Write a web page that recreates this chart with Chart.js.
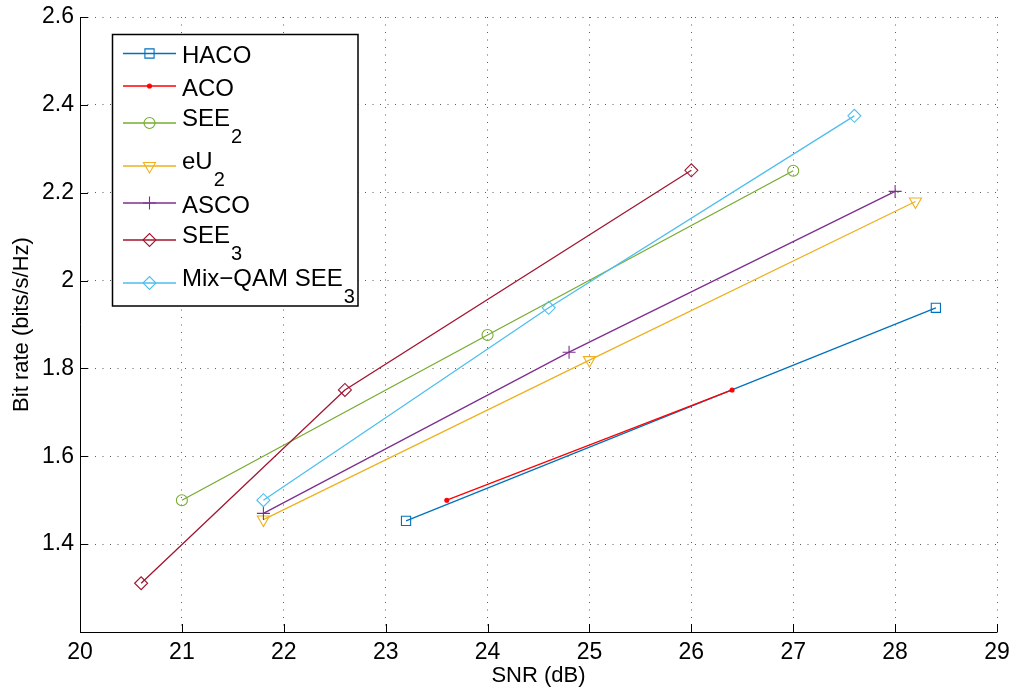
<!DOCTYPE html>
<html><head><meta charset="utf-8">
<script src="https://cdn.jsdelivr.net/npm/chart.js@4/dist/chart.umd.min.js"></script>
<style>html,body{margin:0;padding:0;background:#fff;overflow:hidden}#wrap{position:relative;width:1014px;height:689px}</style>
</head><body><div id="wrap"><canvas id="c" width="1014" height="689"></canvas></div>
<script>
// ---- data ----
const snrHACO = [23.2, 28.4];
const rateHACO = [1.453, 1.938];
const snrACO = [23.6, 26.4];
const rateACO = [1.5, 1.751];
const snrSEE2 = [21, 24, 27];
const rateSEE2 = [1.5, 1.876, 2.25];
const snrEU2 = [21.8, 25, 28.2];
const rateEU2 = [1.456, 1.819, 2.18];
const snrASCO = [21.8, 24.8, 28];
const rateASCO = [1.47, 1.837, 2.203];
const snrSEE3 = [20.6, 22.6, 26];
const rateSEE3 = [1.311, 1.751, 2.251];
const snrMix = [21.8, 24.6, 27.6];
const rateMix = [1.5, 1.938, 2.375];

const seriesNames = ['HACO', 'ACO', 'SEE2', 'eU2', 'ASCO', 'SEE3', 'Mix-QAM SEE3'];
const legendMain = ['HACO', 'ACO', 'SEE', 'eU', 'ASCO', 'SEE', 'Mix\u2212QAM SEE'];
const legendSub = ['', '', '2', '2', '', '3', '3'];

const xTickValues = [20, 21, 22, 23, 24, 25, 26, 27, 28, 29];
const xTickLabels = ['20', '21', '22', '23', '24', '25', '26', '27', '28', '29'];
const yTickValues = [1.2, 1.4, 1.6, 1.8, 2.0, 2.2, 2.4, 2.6];
const yTickLabels = ['', '1.4', '1.6', '1.8', '2', '2.2', '2.4', '2.6'];

const xTitle = 'SNR (dB)';
const yTitle = 'Bit rate (bits/s/Hz)';

// ---- styles ----
const colors = ['#0072BD', '#FF0000', '#77AC30', '#EDB120', '#7E2F8E', '#A2142F', '#4DBEEE'];
const markers = [
  {pointStyle: 'rect', radius: 6.5, rotation: 0, fill: false},
  {pointStyle: 'circle', radius: 2, rotation: 0, fill: true},
  {pointStyle: 'circle', radius: 5.5, rotation: 0, fill: false},
  {pointStyle: 'triangle', radius: 7, rotation: 180, fill: false},
  {pointStyle: 'cross', radius: 6.5, rotation: 0, fill: false},
  {pointStyle: 'rectRot', radius: 6.5, rotation: 0, fill: false},
  {pointStyle: 'rectRot', radius: 6.5, rotation: 0, fill: false}
];
const xs = [snrHACO, snrACO, snrSEE2, snrEU2, snrASCO, snrSEE3, snrMix];
const ys = [rateHACO, rateACO, rateSEE2, rateEU2, rateASCO, rateSEE3, rateMix];

const FONT = '"Liberation Sans", Arial, Helvetica, sans-serif';

const datasets = seriesNames.map((name, i) => ({
  label: name,
  data: xs[i].map((x, j) => ({x: x, y: ys[i][j]})),
  showLine: true,
  borderColor: colors[i],
  backgroundColor: markers[i].fill ? colors[i] : 'rgba(0,0,0,0)',
  borderWidth: 1.3,
  pointStyle: markers[i].pointStyle,
  pointRadius: markers[i].radius,
  pointRotation: markers[i].rotation,
  pointBorderColor: colors[i],
  pointBackgroundColor: markers[i].fill ? colors[i] : 'rgba(0,0,0,0)',
  pointBorderWidth: 1.1,
  order: -i
}));

const matlabPlugin = {
  id: 'matlab',
  afterDraw(chart) {
    const {ctx, chartArea: a, scales: {x, y}} = chart;
    ctx.save();
    // axes lines
    ctx.strokeStyle = '#000';
    ctx.lineWidth = 1;
    ctx.setLineDash([]);
    ctx.beginPath();
    ctx.moveTo(a.left + 0.5, a.top);
    ctx.lineTo(a.left + 0.5, a.bottom + 0.5);
    ctx.lineTo(a.right + 0.5, a.bottom + 0.5);
    ctx.stroke();
    // inward ticks
    ctx.beginPath();
    x.ticks.forEach(t => {
      const px = Math.round(x.getPixelForValue(t.value)) + 0.5;
      ctx.moveTo(px, a.bottom);
      ctx.lineTo(px, a.bottom - 8);
    });
    y.ticks.forEach(t => {
      const py = Math.round(y.getPixelForValue(t.value)) + 0.5;
      ctx.moveTo(a.left, py);
      ctx.lineTo(a.left + 8, py);
    });
    ctx.stroke();

    // legend
    const bl = 112.5, bt = 34.5, br = 358, bb = 306;
    ctx.fillStyle = '#fff';
    ctx.fillRect(bl, bt, br - bl, bb - bt);
    ctx.lineWidth = 1.5;
    ctx.strokeStyle = '#000';
    ctx.strokeRect(bl, bt, br - bl, bb - bt);
    const rowsY = [53.5, 86, 123, 166, 203, 240, 283];
    rowsY.forEach((ry, i) => {
      ctx.strokeStyle = colors[i];
      ctx.lineWidth = 1.3;
      ctx.beginPath();
      ctx.moveTo(123, ry);
      ctx.lineTo(176, ry);
      ctx.stroke();
      ctx.fillStyle = markers[i].fill ? colors[i] : 'rgba(0,0,0,0)';
      ctx.lineWidth = 1.1;
      Chart.helpers.drawPoint(ctx, {
        pointStyle: markers[i].pointStyle,
        radius: markers[i].radius,
        rotation: markers[i].rotation,
        borderWidth: 1.1
      }, 149.5, ry);
      ctx.fillStyle = '#000';
      ctx.textAlign = 'left';
      ctx.textBaseline = 'alphabetic';
      ctx.font = '24px ' + FONT;
      const hasSub = legendSub[i] !== '';
      const base = hasSub ? ry + 2.5 : ry + 9.5;
      ctx.fillText(legendMain[i], 182, base);
      if (hasSub) {
        const w = ctx.measureText(legendMain[i]).width;
        ctx.font = '20px ' + FONT;
        ctx.fillText(legendSub[i], 182 + w + 1, base + 17);
      }
    });
    ctx.restore();
  }
};

new Chart(document.getElementById('c'), {
  type: 'scatter',
  data: {datasets: datasets},
  options: {
    responsive: false,
    devicePixelRatio: 1,
    animation: false,
    layout: {padding: {top: 17, right: 17, left: 0, bottom: 0}},
    plugins: {legend: {display: false}, tooltip: {enabled: false}},
    scales: {
      x: {
        type: 'linear', min: 20, max: 29,
        afterBuildTicks: s => { s.ticks = xTickValues.map(v => ({value: v})); },
        afterFit: s => { s.height = 57; s.paddingLeft = 0; s.paddingRight = 0; },
        ticks: {
          callback: (v, i) => xTickLabels[i],
          font: {family: FONT, size: 23}, color: '#000', padding: 7, maxRotation: 0, autoSkip: false
        },
        grid: {color: 'rgba(50,50,50,0.8)', lineWidth: 1, drawTicks: false},
        border: {display: false, dash: [1, 6.5]},
        title: {display: true, text: xTitle, font: {family: FONT, size: 22}, color: '#000', padding: {top: 0, bottom: 0}}
      },
      y: {
        type: 'linear', min: 1.2, max: 2.6,
        afterBuildTicks: s => { s.ticks = yTickValues.map(v => ({value: v})); },
        afterFit: s => { s.width = 80; s.paddingTop = 0; s.paddingBottom = 0; },
        ticks: {
          callback: (v, i) => yTickLabels[i],
          font: {family: FONT, size: 23}, color: '#000', padding: 6, autoSkip: false
        },
        grid: {color: 'rgba(50,50,50,0.8)', lineWidth: 1, drawTicks: false},
        border: {display: false, dash: [1, 6.5]},
        title: {display: true, text: yTitle, font: {family: FONT, size: 22}, color: '#000', padding: {top: 9, bottom: 0}}
      }
    }
  },
  plugins: [matlabPlugin]
});
</script>
</body></html>
